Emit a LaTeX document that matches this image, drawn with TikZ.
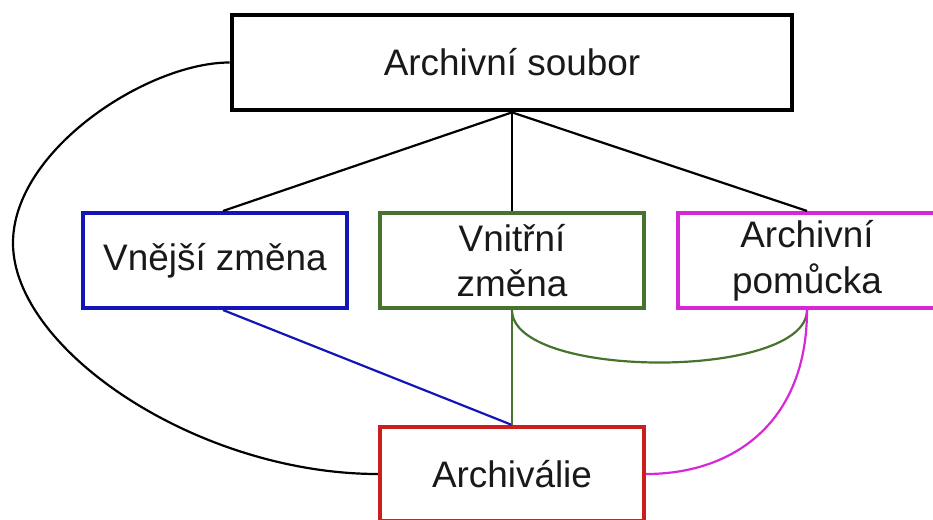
\documentclass[tikz,border=0pt]{standalone}
\usepackage{fontspec}
\setmainfont{Liberation Sans}
\usepackage{tikz}
\definecolor{vnejsiblue}{RGB}{20,20,185}
\definecolor{vnitrnigreen}{RGB}{70,115,45}
\definecolor{pomuckamagenta}{RGB}{215,40,215}
\definecolor{archivred}{RGB}{205,30,30}
\tikzstyle{box} = [rectangle, draw, line width=2.3pt, inner sep=0pt, minimum width=5.28cm, minimum height=1.9cm, align=center, text=black!90, font=\fontsize{21}{26}\selectfont]
\tikzstyle{topbox} = [box, line width=2.7pt, minimum width=11.2cm]
\tikzstyle{link} = [line width=1.25pt]

\begin{document}
\begin{tikzpicture}[node distance=2cm]
\useasboundingbox (-10.24,1.25) rectangle (8.42,-9.15);

\node (soubor)		[topbox]										{Archivní soubor};
\node (vnitrni)	[box, draw=vnitrnigreen, below of=soubor, yshift=-1.96cm]	{Vnitřní\\změna};
\node (vnejsi)		[box, draw=vnejsiblue, left of=vnitrni, xshift=-3.94cm]	{Vnější změna};
\node (pomucka)	[box, draw=pomuckamagenta, minimum width=5.16cm, right of=vnitrni, xshift=3.9cm]	{Archivní\\pomůcka};
\node (archivalie)	[box, draw=archivred, minimum height=1.88cm, below of=vnitrni, yshift=-2.27cm]	{Archiválie};
\coordinate (bend) at (-9.98,-3.61);

\draw [link] (soubor.south) -- ([xshift=0.16cm]vnejsi.north);
\draw [link] (soubor.south) -- (vnitrni.north);
\draw [link] (soubor.south) -- (pomucka.north);
\draw [link, vnejsiblue] ([xshift=0.16cm]vnejsi.south) -- (archivalie.north);
\draw [link, vnitrnigreen] (vnitrni.south) -- (archivalie.north);
\draw [link, vnitrnigreen] (vnitrni.south) .. controls +(0,-1.4) and +(0,-1.4) .. (pomucka.south);
\draw [link, pomuckamagenta] (pomucka.south) .. controls +(0,-2.2) and +(1.8,0) .. (archivalie.east);
\draw [link] (soubor.west) .. controls +(-1.64,0) and +(0,1.86) .. (bend) .. controls +(0,-2.14) and +(-3.6,0) .. (archivalie.west);

\end{tikzpicture}
\end{document}
